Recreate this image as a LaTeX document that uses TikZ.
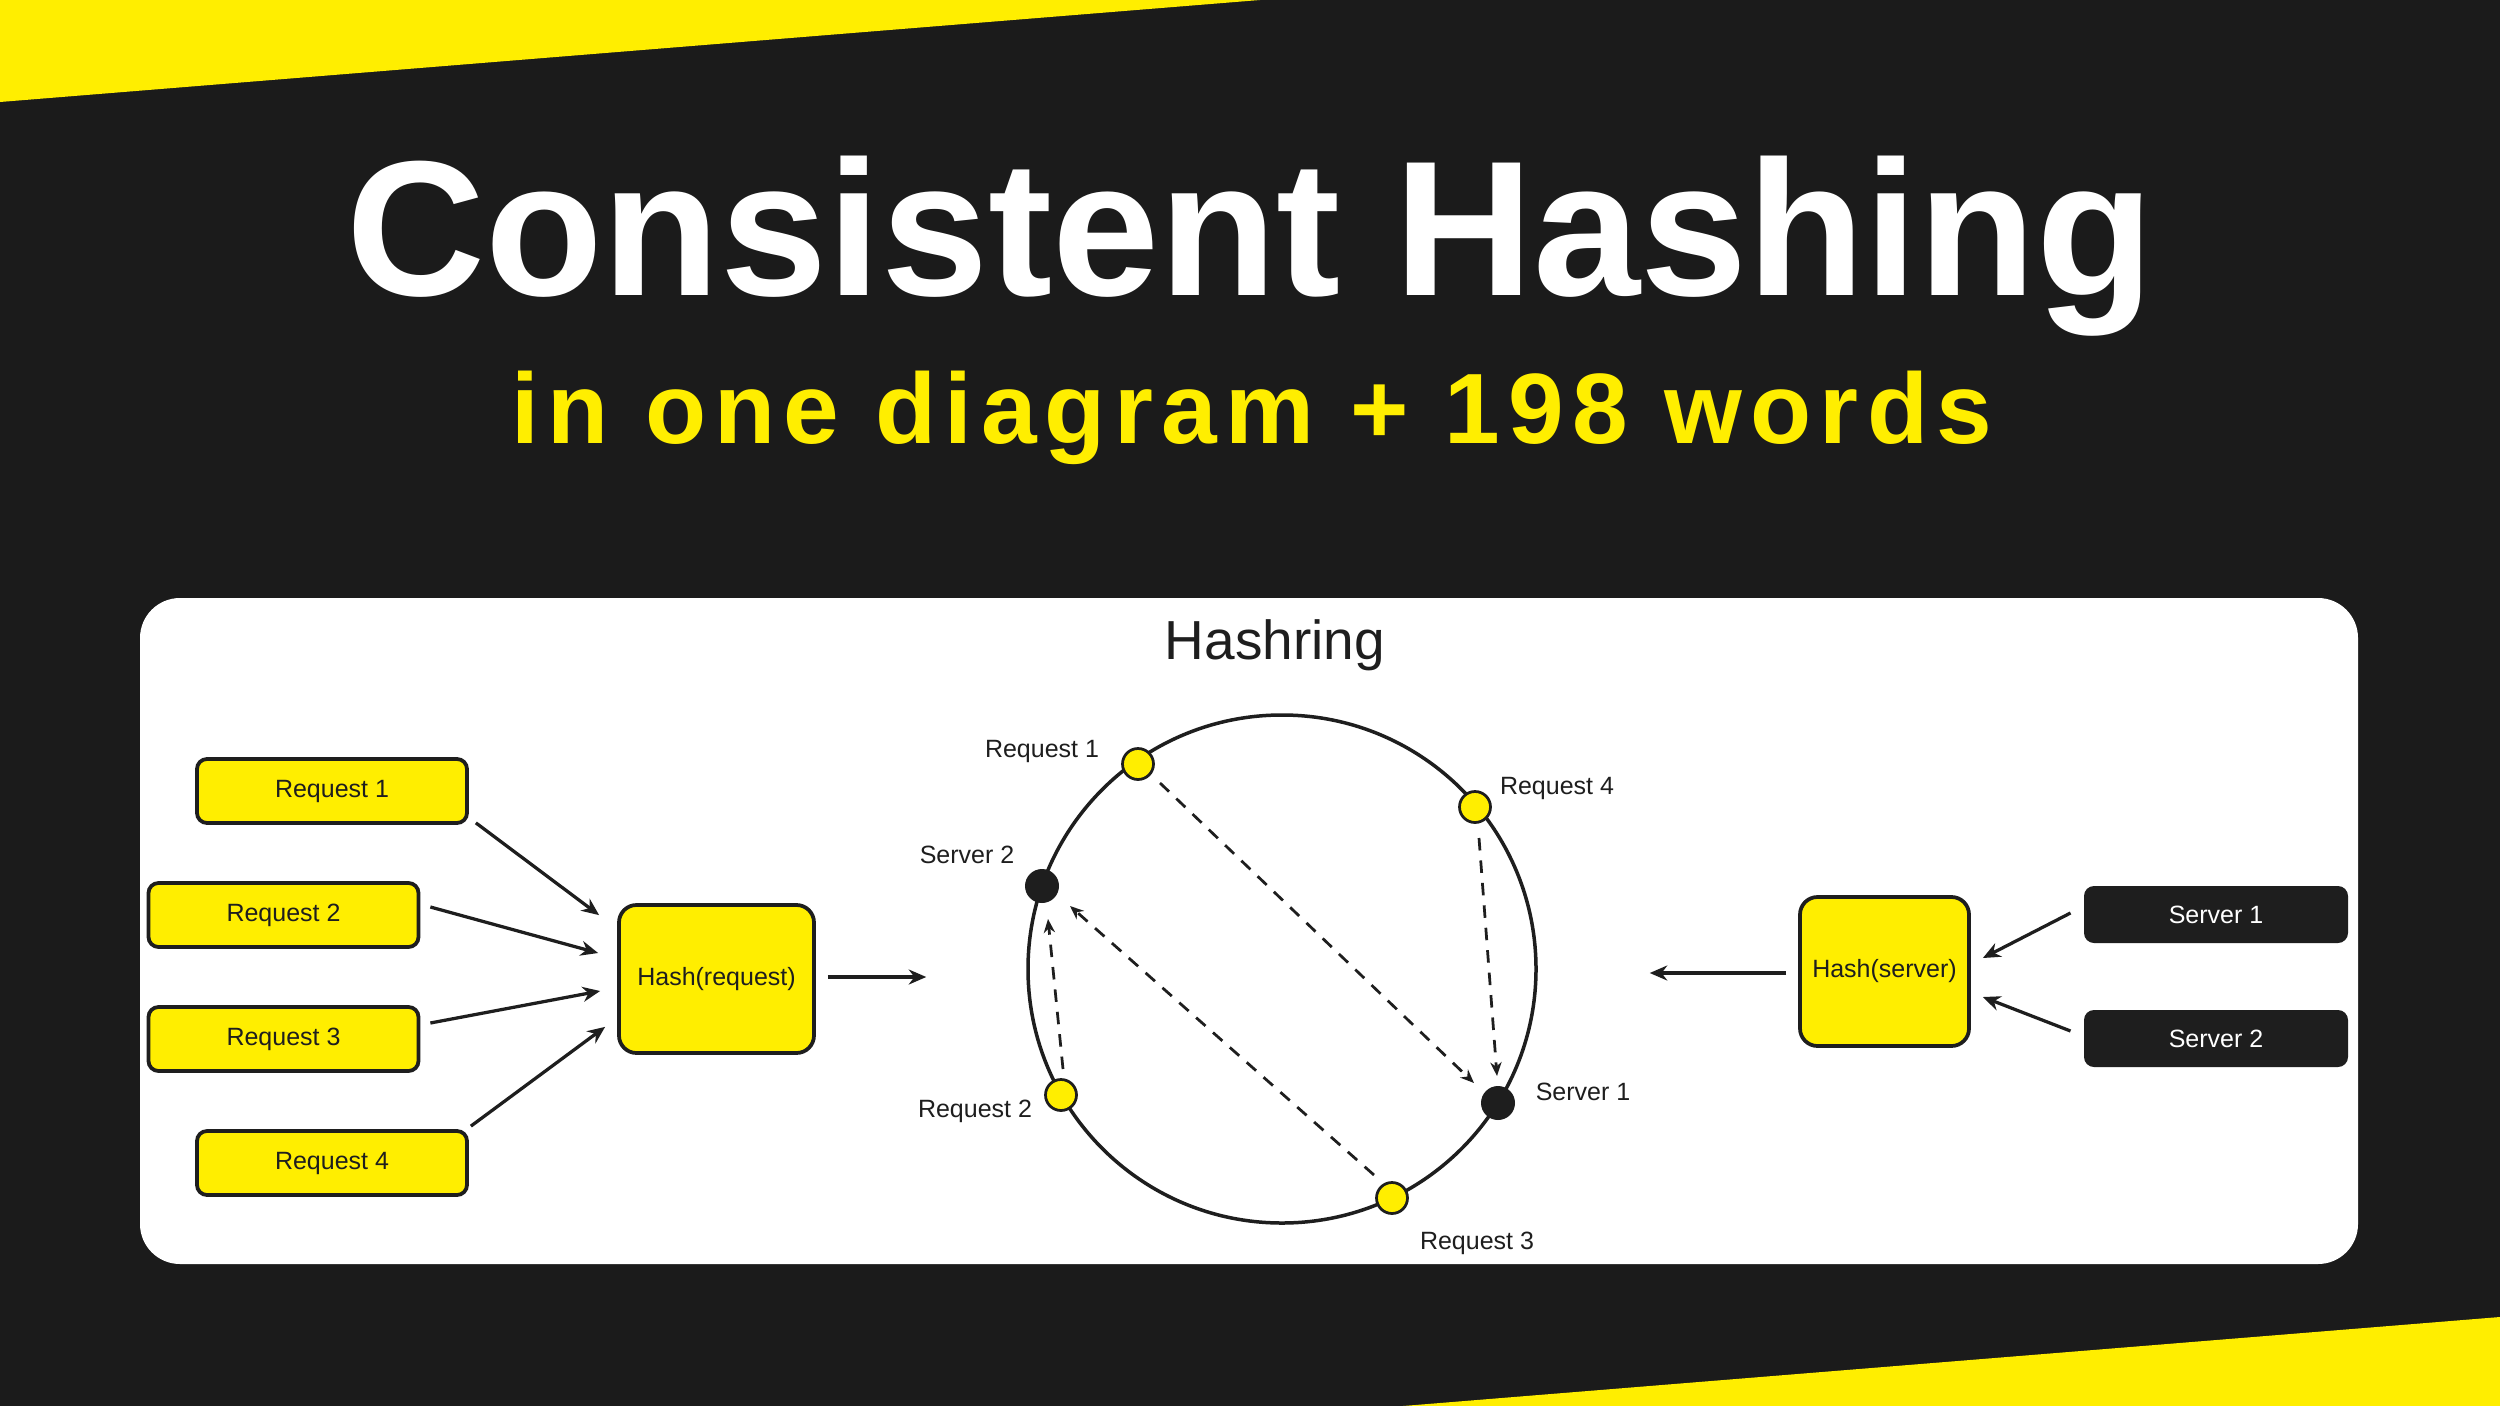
\documentclass[tikz,border=0pt]{standalone}
\usepackage{fontspec}
\setmainfont{Liberation Sans}
\usetikzlibrary{arrows.meta}
\definecolor{bg}{RGB}{27,27,27}
\definecolor{yel}{RGB}{255,238,0}
\definecolor{ink}{RGB}{30,30,30}
\begin{document}
\begin{tikzpicture}[x=0.4pt,y=-0.4pt,
  lbl/.style={font=\fontsize{10}{12}\selectfont, text=ink, inner sep=0pt},
  reqbox/.style={draw=ink, fill=yel, line width=1.5pt, rounded corners=4pt,
    minimum width=108pt, minimum height=25.6pt, inner sep=0pt,
    font=\fontsize{10}{12}\selectfont, text=ink},
  hashbox/.style={draw=ink, fill=yel, line width=1.5pt, rounded corners=7pt,
    inner sep=0pt, font=\fontsize{10}{12}\selectfont, text=ink},
  srvbox/.style={fill=ink, rounded corners=4pt, minimum width=105.6pt,
    minimum height=22.8pt, inner sep=0pt, font=\fontsize{10}{12}\selectfont, text=white},
  qdot/.style={circle, draw=ink, fill=yel, line width=1.1pt, minimum size=12.4pt, inner sep=0pt},
  sdot/.style={circle, fill=ink, minimum size=13.6pt, inner sep=0pt},
  arr/.style={draw=ink, line width=1.3pt, -{Stealth[length=7pt,width=6pt]}},
  darr/.style={draw=ink, line width=1.1pt, dash pattern=on 5pt off 4pt,
    -{Stealth[length=5.5pt,width=4.5pt]}}
]
\useasboundingbox (0,0) rectangle (2500,1406);
\fill[bg] (0,0) rectangle (2500,1406);
\fill[yel] (0,0) -- (1260,0) -- (0,102) -- cycle;
\fill[yel] (1403,1406) -- (2500,1317) -- (2500,1406) -- cycle;

% titles
\node[anchor=base, text=white, inner sep=0pt, font=\fontsize{77}{80}\selectfont\bfseries] (title) at (1250,295) {Consistent Hashing};
\node[anchor=base, text=yel, inner sep=0pt, font=\fontsize{40}{44}\selectfont\bfseries\addfontfeatures{LetterSpace=8.3}] (subtitle) at (1252,443) {in one diagram + 198 words};

% panel
\fill[white, rounded corners=16pt] (140,598) rectangle (2358,1264);
\node[anchor=base, text=ink, inner sep=0pt, font=\fontsize{22}{26}\selectfont] (hr) at (1275,659) {Hashring};

% left side
\node[reqbox] (r1) at (332,791) {Request 1};
\node[reqbox] (r2) at (283.5,915) {Request 2};
\node[reqbox] (r3) at (283.5,1039) {Request 3};
\node[reqbox] (r4) at (332,1163) {Request 4};
\node[hashbox, minimum width=78pt, minimum height=59.2pt] (hreq) at (716.5,979) {Hash(request)};

% right side
\node[hashbox, minimum width=67.6pt, minimum height=59.6pt] (hsrv) at (1884.5,971.5) {Hash(server)};
\node[srvbox] (s1) at (2216,914.5) {Server 1};
\node[srvbox] (s2) at (2216,1038.5) {Server 2};

% ring
\node[circle, draw=ink, line width=1.4pt, minimum size=203.2pt, inner sep=0pt] (ring) at (1282,969) {};
\node[qdot] (q1) at (1138,764) {};
\node[qdot] (q4) at (1475,807) {};
\node[sdot] (sv2) at (1042,886) {};
\node[qdot] (q2) at (1061,1095) {};
\node[sdot] (sv1) at (1498,1103) {};
\node[qdot] (q3) at (1392,1198) {};

\node[lbl, anchor=base] (lq1) at (1042,757) {Request 1};
\node[lbl, anchor=base] (lq4) at (1557,794) {Request 4};
\node[lbl, anchor=base] (lsv2) at (967,863) {Server 2};
\node[lbl, anchor=base] (lq2) at (975,1117) {Request 2};
\node[lbl, anchor=base] (lsv1) at (1583,1100) {Server 1};
\node[lbl, anchor=base] (lq3) at (1477,1249) {Request 3};

% solid arrows
\draw[arr] ([shift={(7,-2)}]r1.south east) -- ([shift={(-18,12)}]hreq.north west);
\draw[arr] ([shift={(10,-8)}]r2.east) -- ([shift={(-19,-26)}]hreq.west);
\draw[arr] ([shift={(10,-16)}]r3.east) -- ([shift={(-17,12)}]hreq.west);
\draw[arr] ([shift={(2,-3)}]r4.north east) -- ([shift={(-12,-28)}]hreq.south west);
\draw[arr] ([shift={(12,-2)}]hreq.east) -- ([shift={(-100,8)}]ring.west);
\draw[arr] ([shift={(-12,1.5)}]hsrv.west) -- ([shift={(112,4)}]ring.east);
\draw[arr] ([shift={(-13,-1.5)}]s1.west) -- ([shift={(12,-13.5)}]hsrv.east);
\draw[arr] ([shift={(-13,-7.5)}]s2.west) -- ([shift={(12,25.5)}]hsrv.east);

% dashed arrows
\draw[darr] ([shift={(22,19)}]q1.center) -- ([shift={(-24,-20)}]sv1.center);
\draw[darr] ([shift={(4,31)}]q4.center) -- ([shift={(-1,-27)}]sv1.center);
\draw[darr] ([shift={(-18,-23)}]q3.center) -- ([shift={(28,20)}]sv2.center);
\draw[darr] ([shift={(2,-26)}]q2.center) -- ([shift={(6,33)}]sv2.center);
\end{tikzpicture}
\end{document}
